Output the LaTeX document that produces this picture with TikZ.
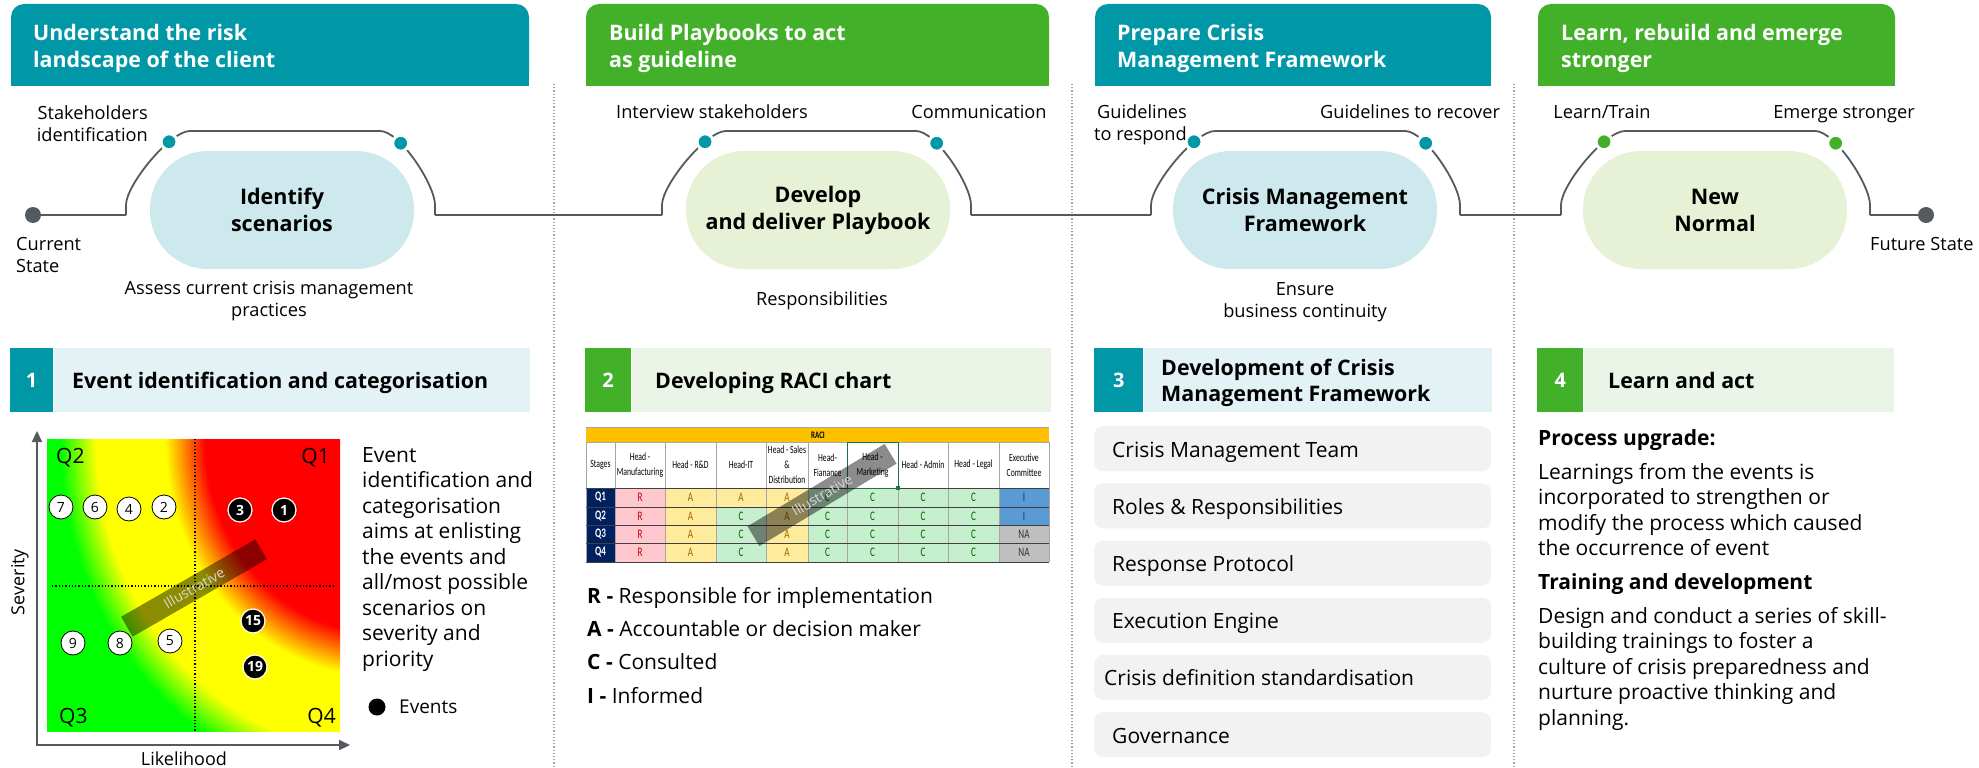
\documentclass[tikz,border=0pt]{standalone}
\usepackage{fontspec}
\setmainfont{Open Sans}
\newfontfamily\racifont[FakeStretch=0.7]{Carlito}
\usetikzlibrary{positioning,calc,arrows.meta}

% Colours
\definecolor{cmteal}{HTML}{0097A7}
\definecolor{cmgreen}{HTML}{43B02A}
\definecolor{pillteal}{HTML}{CDE9EE}
\definecolor{pillgreen}{HTML}{E6F1D5}
\definecolor{bandteal}{HTML}{E3F3F5}
\definecolor{bandgreen}{HTML}{EBF5E7}
\definecolor{lgray}{HTML}{555A60}
\definecolor{sepgray}{HTML}{A0A0A0}
\definecolor{boxgray}{HTML}{F2F2F2}
\definecolor{heatred}{HTML}{FF0000}
\definecolor{heatyellow}{HTML}{FFFF00}
\definecolor{heatgreen}{HTML}{00FF00}
\definecolor{racigold}{HTML}{FFC000}
\definecolor{racinavy}{HTML}{002060}
\definecolor{raciR}{HTML}{FFC7CE}
\definecolor{raciA}{HTML}{FFEB9C}
\definecolor{raciC}{HTML}{C6EFCE}
\definecolor{raciI}{HTML}{5B9BD5}
\definecolor{raciNA}{HTML}{BFBFBF}
\definecolor{txtR}{HTML}{C00000}
\definecolor{txtA}{HTML}{9C6500}
\definecolor{txtC}{HTML}{006100}
\definecolor{txtI}{HTML}{1F2F4F}
\definecolor{txtNA}{HTML}{333333}
\definecolor{racisel}{HTML}{217346}

% radius of the shaded ellipse is 25bp
\pgfdeclareradialshading{heatmap}{\pgfpoint{0bp}{0bp}}{%
  color(0bp)=(heatred); color(8.75bp)=(heatred); color(10.75bp)=(heatyellow);
  color(14.2bp)=(heatyellow); color(16bp)=(heatgreen); color(50bp)=(heatgreen)}

\begin{document}
\begin{tikzpicture}[x=1pt, y=1pt, >=Stealth,
    hdr/.style={font=\fontsize{21.4}{27}\selectfont\bfseries, text=white, align=left, anchor=base west, inner sep=0pt},
    pill/.style={rounded corners=58pt, minimum width=264pt, minimum height=118pt, inner sep=0pt,
      align=center, font=\fontsize{21.5}{27}\selectfont\bfseries},
    tlab/.style={font=\fontsize{18.2}{22}\selectfont, inner sep=0pt, anchor=base},
    tline/.style={draw=lgray, line width=1.8pt},
    tdot/.style={circle, fill=#1, draw=white, line width=3pt, minimum size=16pt, inner sep=0pt},
    sepline/.style={draw=sepgray, line width=1.2pt, dotted},
    numbox/.style={anchor=north west, minimum height=64pt, inner sep=0pt, text=white,
      font=\fontsize{20}{24}\selectfont\bfseries},
    band/.style={minimum height=64pt, inner sep=0pt},
    sectitle/.style={font=\fontsize{21.4}{26}\selectfont\bfseries, align=left, anchor=base west, inner sep=0pt},
    body/.style={font=\fontsize{21}{25.5}\selectfont, align=left, anchor=base west, inner sep=0pt},
    qlab/.style={font=\fontsize{21}{21}\selectfont, inner sep=0pt},
    axlab/.style={font=\fontsize{18}{18}\selectfont, inner sep=0pt},
    evt/.style={circle, draw=black, fill=white, line width=0.8pt, minimum size=24pt, inner sep=0pt,
      font=\fontsize{14}{14}\selectfont},
    evtb/.style={evt, fill=black, draw=white, line width=1.2pt, text=white, font=\fontsize{14}{14}\selectfont\bfseries},
    illus/.style={fill=black, fill opacity=0.45, text opacity=1, text=white!85!black, inner sep=0pt,
      minimum height=23pt, font=\fontsize{14}{14}\selectfont},
    racih/.style={align=center, inner sep=0pt, font=\racifont\fontsize{11}{15}\selectfont},
    racic/.style={inner sep=0pt, font=\racifont\fontsize{13}{13}\selectfont},
    racigrid/.style={draw=black!35, line width=0.6pt},
    racirow/.style={draw=black!75, line width=0.8pt},
    leg/.style={font=\fontsize{21}{21}\selectfont, anchor=base west, inner sep=0pt},
    grbox/.style={fill=boxgray, rounded corners=9pt, minimum width=397pt, minimum height=45pt,
      anchor=north west, inner sep=0pt},
    grtxt/.style={font=\fontsize{21}{21}\selectfont, anchor=base west, inner sep=0pt}]

  % Canvas
  \useasboundingbox (0,0) rectangle (1979,-768);
  \fill[white] (0,0) rectangle (1979,-768);

  % Column separators
  \foreach \sx in {554,1072,1514}
    \draw[sepline] (\sx,-84) -- (\sx,-768);

  % Phase headers (multi-line nodes sit on their last baseline)
  \fill[cmteal, rounded corners=13pt] (11,-4) rectangle (529,-86);
  \fill[cmteal] (11,-40) rectangle (529,-86);
  \node[hdr] (h1) at (33,-67) {Understand the risk\\landscape of the client};

  \fill[cmgreen, rounded corners=13pt] (586,-4) rectangle (1049,-86);
  \fill[cmgreen] (586,-40) rectangle (1049,-86);
  \node[hdr] (h2) at (609,-67) {Build Playbooks to act\\as guideline};

  \fill[cmteal, rounded corners=13pt] (1095,-4) rectangle (1491,-86);
  \fill[cmteal] (1095,-40) rectangle (1491,-86);
  \node[hdr] (h3) at (1117,-67) {Prepare Crisis\\Management Framework};

  \fill[cmgreen, rounded corners=13pt] (1538,-4) rectangle (1895,-86);
  \fill[cmgreen] (1538,-40) rectangle (1895,-86);
  \node[hdr] (h4) at (1561,-67) {Learn, rebuild and emerge\\stronger};

  % Stage pills
  \node[pill, fill=pillteal]  (p1) at (282,-210)  {Identify\\scenarios};
  \node[pill, fill=pillgreen] (p2) at (818,-210)  {Develop\\and deliver Playbook};
  \node[pill, fill=pillteal]  (p3) at (1305,-210) {Crisis Management\\Framework};
  \node[pill, fill=pillgreen] (p4) at (1715,-210) {New\\Normal};

  % Timeline
  \node[circle, fill=lgray, minimum size=16pt, inner sep=0pt] (cur) at (33,-215) {};
  \node[circle, fill=lgray, minimum size=16pt, inner sep=0pt] (fut) at (1926,-215) {};
  \foreach \bx/\dc [count=\i] in {126/cmteal, 662/cmteal, 1151/cmteal, 1561/cmgreen}{
    \draw[tline] (\bx,-215) coordinate (b\i l) -- (\bx,-205)
        .. controls (\bx,-185) and (\bx+44,-131) .. (\bx+64,-131)
        node[tdot=\dc, pos=0.72] (d\i a) {}
        -- (\bx+254,-131)
        .. controls (\bx+274,-131) and (\bx+309,-185) .. (\bx+309,-205)
        node[tdot=\dc, pos=0.3] (d\i b) {}
        -- (\bx+309,-215) coordinate (b\i r);
  }
  \draw[tline] (cur) -- (b1l);
  \draw[tline] (b1r) -- (b2l);
  \draw[tline] (b2r) -- (b3l);
  \draw[tline] (b3r) -- (b4l);
  \draw[tline] (b4r) -- (fut);

  % Timeline labels
  \node[tlab, align=left, anchor=base west] (curl) at (16,-272) {Current\\State};
  \node[tlab, anchor=base west] (futl) at (1870,-250) {Future State};
  \node[tlab, align=right, anchor=base east] (l1a) at (148,-141) {Stakeholders\\identification};
  \node[tlab, align=center] (l1b) at (269,-316) {Assess current crisis management\\practices};
  \node[tlab] (l2a) at (712,-118) {Interview stakeholders};
  \node[tlab] (l2b) at (979,-118) {Communication};
  \node[tlab] (l2c) at (822,-305) {Responsibilities};
  \node[tlab, align=right, anchor=base east] (l3a) at (1187,-140) {Guidelines\\to respond};
  \node[tlab] (l3b) at (1410,-118) {Guidelines to recover};
  \node[tlab, align=center] (l3c) at (1305,-317) {Ensure\\business continuity};
  \node[tlab] (l4a) at (1602,-118) {Learn/Train};
  \node[tlab] (l4b) at (1844,-118) {Emerge stronger};

  % Section headers
  \node[numbox, fill=cmteal, minimum width=43pt] (n1) at (10,-348) {1};
  \node[band, fill=bandteal, minimum width=476pt, right=0pt of n1] (s1) {};
  \node[sectitle] (s1t) at (72,-388) {Event identification and categorisation};

  \node[numbox, fill=cmgreen, minimum width=46pt] (n2) at (585,-348) {2};
  \node[band, fill=bandgreen, minimum width=419pt, right=0pt of n2] (s2) {};
  \node[sectitle] (s2t) at (655,-388) {Developing RACI chart};

  \node[numbox, fill=cmteal, minimum width=49pt] (n3) at (1094,-348) {3};
  \node[band, fill=bandteal, minimum width=348pt, right=0pt of n3] (s3) {};
  \node[sectitle] (s3t) at (1161,-401) {Development of Crisis\\Management Framework};

  \node[numbox, fill=cmgreen, minimum width=46pt] (n4) at (1537,-348) {4};
  \node[band, fill=bandgreen, minimum width=310pt, right=0pt of n4] (s4) {};
  \node[sectitle] (s4t) at (1608,-388) {Learn and act};

  % Heat map
  \fill[heatgreen] (47,-439) rectangle (340,-731);
  \begin{scope}
    \clip (47,-439) rectangle (340,-731);
    \shade[shading=heatmap] (380,-440) ellipse (500pt and 550pt);
  \end{scope}
  \draw[black, line width=1.3pt, dotted] (195,-439) -- (195,-731);
  \draw[black, line width=1.3pt, dotted] (52,-586) -- (334,-586);
  \coordinate (ytop) at (37,-431);
  \coordinate (xend) at (350,-745);
  \draw[lgray, line width=2.2pt, {Triangle[length=11pt,width=10pt]}-{Triangle[length=11pt,width=10pt]}]
    (ytop) |- (xend);
  \node[axlab, rotate=90] (sev) at (20,-582) {Severity};
  \node[axlab, anchor=base] (lik) at (184,-765) {Likelihood};
  \node[qlab, anchor=base west] (q2) at (56,-463) {Q2};
  \node[qlab, anchor=base east] (q1) at (330,-463) {Q1};
  \node[qlab, anchor=base west] (q3) at (59,-723) {Q3};
  \node[qlab, anchor=base east] (q4) at (336,-723) {Q4};
  \foreach \n/\ex/\ey in {7/61/507, 6/95/507, 4/129/509, 2/164/507, 9/73/643, 8/120/643, 5/170/641}
    \node[evt] (e\n) at (\ex,-\ey) {\n};
  \foreach \n/\ex/\ey in {3/240/510, 1/284/510, 15/253/621, 19/255/667}
    \node[evtb] (e\n) at (\ex,-\ey) {\n};
  \node[illus, minimum width=155pt, rotate=30] (ill1) at (194,-588) {Illustrative};

  % Heat map notes
  \node[body] (s1txt) at (362,-666) {Event\\identification and\\categorisation\\aims at enlisting\\the events and\\all/most possible\\scenarios on\\severity and\\priority};
  \node[circle, fill=black, minimum size=17pt, inner sep=0pt] (evkey) at (377,-707) {};
  \node[axlab, font=\fontsize{19}{19}\selectfont, anchor=base west] (evlab) at (399,-713) {Events};

  % RACI table
  \fill[racigold] (586,-427) rectangle (1049,-442);
  \node[racic, font=\racifont\fontsize{10}{10}\selectfont\bfseries] (racit) at (818,-435) {RACI};
  \foreach \cx/\ct [count=\i] in {600.5/Stages, 640/{Head -\\Manufacturing}, 690.5/{Head - R\&D},
      741/Head-IT, 787/{Head - Sales\\\&\\Distribution}, 827.5/{Head-\\Fianance}, 872.5/{Head -\\Marketing},
      923/{Head - Admin}, 973.5/{Head - Legal}, 1024/{Executive\\Committee}}
    \node[racih] (rh\i) at (\cx,-465) {\ct};
  \foreach \ya/\yb/\q/\itc/\exc in {488/507/Q1/A/I, 507/525/Q2/C/I, 525/543/Q3/C/NA, 543/562/Q4/C/NA}{
    \fill[racinavy] (586,-\ya) rectangle (615,-\yb);
    \node[racic, text=white, font=\racifont\fontsize{13}{13}\selectfont\bfseries] (r\q) at (600.5,{-(\ya+\yb)/2}) {\q};
    \foreach \xa/\xb/\lab [count=\j] in {615/665/R, 665/716/A, 716/766/\itc, 766/808/A, 808/847/C,
        847/898/C, 898/948/C, 948/999/C, 999/1049/\exc}{
      \fill[fill=raci\lab] (\xa,-\ya) rectangle (\xb,-\yb);
      \node[racic, text=txt\lab] (r\q-\j) at ({(\xa+\xb)/2},{-(\ya+\yb)/2}) {\lab};
    }
  }
  \foreach \gx in {586,615,665,716,766,808,847,898,948,999,1049}
    \draw[racigrid] (\gx,-442) -- (\gx,-562);
  \foreach \gy in {488,507,525,543,562}
    \draw[racirow] (586,-\gy) -- (1049,-\gy);
  \draw[racigrid] (586,-427) -- (1049,-427);
  \draw[racigrid] (586,-442) -- (1049,-442);
  \draw[racisel, line width=1pt] (847,-442) rectangle (898,-488);
  \fill[racisel] (896,-486) rectangle (900,-490);
  \node[illus, minimum width=160pt, rotate=31] (ill2) at (822,-495) {Illustrative};

  % RACI legend
  \node[leg] (lgR) at (587,-603) {\textbf{R -} Responsible for implementation};
  \node[leg] (lgA) at (587,-636) {\textbf{A -} Accountable or decision maker};
  \node[leg] (lgC) at (587,-669) {\textbf{C -} Consulted};
  \node[leg] (lgI) at (587,-703) {\textbf{I -} Informed};

  % Framework building blocks
  \foreach \t/\tx [count=\i] in {Crisis Management Team/1112, Roles \& Responsibilities/1112,
      Response Protocol/1112, Execution Engine/1112, Crisis definition standardisation/1104, Governance/1112}{
    \node[grbox] (g\i) at (1094,{-426-(\i-1)*57.2}) {};
    \node[grtxt] (g\i t) at (\tx,{-457-(\i-1)*57.2}) {\t};
  }

  % Learn and act
  \node[body, font=\fontsize{21}{25.5}\selectfont\bfseries] (pu) at (1538,-445) {Process upgrade:};
  \node[body] (putxt) at (1538,-555.5) {Learnings from the events is\\incorporated to strengthen or\\modify the process which caused\\the occurrence of event};
  \node[body, font=\fontsize{21}{25.5}\selectfont\bfseries] (td) at (1538,-589) {Training and development};
  \node[body] (tdtxt) at (1538,-725) {Design and conduct a series of skill-\\building trainings to foster a\\culture of crisis preparedness and\\nurture proactive thinking and\\planning.};
\end{tikzpicture}
\end{document}
